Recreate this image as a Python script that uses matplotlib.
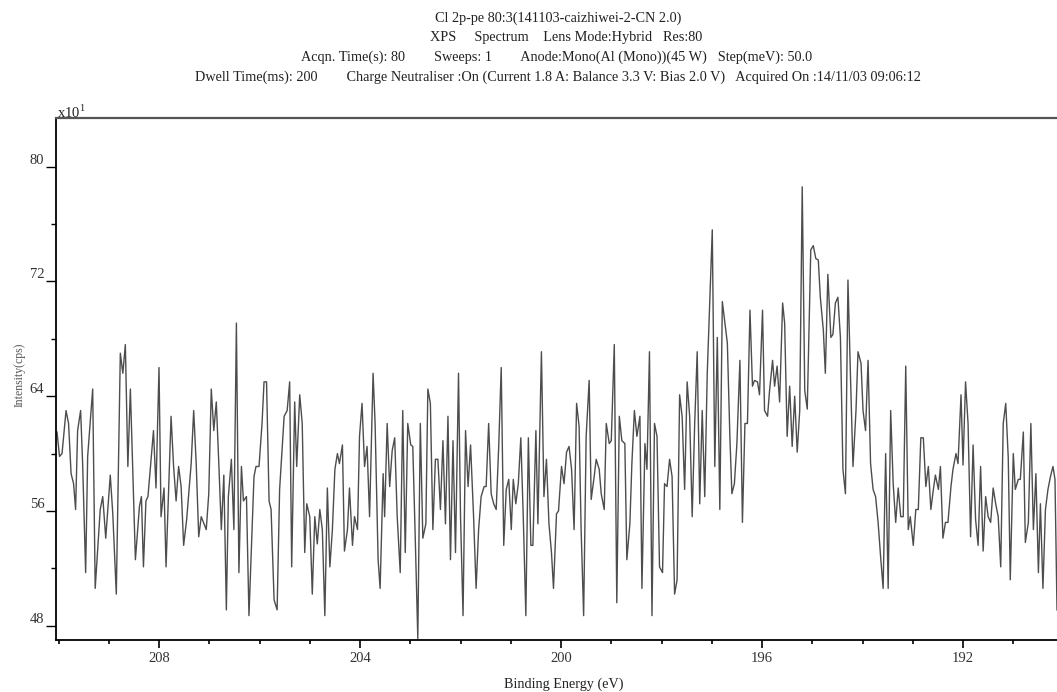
import matplotlib
matplotlib.use("Agg")
import matplotlib.pyplot as plt
from matplotlib.ticker import MultipleLocator
import numpy as np

plt.rcParams['font.family'] = ['Liberation Serif', 'DejaVu Serif']
plt.rcParams['mathtext.fontset'] = 'custom'
plt.rcParams['mathtext.rm'] = 'Liberation Serif'

# Cl 2p spectrum, binding energy (eV) vs intensity (x10 cps)
energy_a = [210.03, 209.98, 209.93, 209.85, 209.80, 209.75, 209.70, 209.66, 209.62, 209.56,
            209.52, 209.46, 209.42, 209.32, 209.27, 209.17, 209.12, 209.06, 208.97, 208.92,
            208.85, 208.77, 208.72, 208.67, 208.62, 208.57, 208.47, 208.39, 208.35, 208.31,
            208.26, 208.22, 208.11, 208.06, 208.00, 207.96, 207.90, 207.86, 207.76, 207.71,
            207.66, 207.61, 207.56, 207.51, 207.45, 207.36, 207.31, 207.26, 207.21, 207.16,
            207.06, 207.01, 206.96, 206.91, 206.86, 206.81, 206.76, 206.71, 206.66, 206.62,
            206.56, 206.51, 206.46, 206.41, 206.36, 206.32, 206.26, 206.21, 206.11, 206.07,
            206.01, 205.95, 205.91, 205.86, 205.81, 205.77, 205.71, 205.65, 205.60, 205.51,
            205.45, 205.40, 205.36, 205.30, 205.26, 205.20, 205.15, 205.10, 205.06, 205.00,
            204.95, 204.90, 204.85, 204.80, 204.75, 204.70, 204.65, 204.60, 204.55, 204.50,
            204.45, 204.41, 204.35, 204.31, 204.25, 204.21, 204.15, 204.11, 204.05, 204.01,
            203.96, 203.91, 203.86, 203.81, 203.74, 203.70, 203.64, 203.60, 203.54]
counts_a = [61.5, 59.8, 60.0, 63.0, 62.1, 58.6, 57.9, 56.1, 61.6, 63.0,
            59.3, 51.7, 59.8, 64.5, 50.6, 56.1, 57.0, 54.1, 58.5, 55.8,
            50.2, 67.0, 65.6, 67.6, 59.1, 64.5, 52.6, 56.3, 57.0, 52.1,
            56.7, 57.0, 61.6, 57.6, 66.0, 55.6, 57.6, 52.1, 62.6, 59.1,
            56.7, 59.1, 57.7, 53.6, 55.4, 59.3, 63.0, 59.3, 54.2, 55.6,
            54.7, 57.2, 64.5, 61.6, 63.6, 59.3, 54.7, 58.5, 49.1, 57.0,
            59.6, 54.7, 69.1, 51.7, 59.1, 56.7, 57.0, 48.7, 58.4, 59.1,
            59.1, 62.1, 65.0, 65.0, 56.7, 56.1, 49.8, 49.1, 57.5, 62.6,
            63.0, 65.0, 52.1, 63.6, 59.1, 64.1, 62.1, 53.1, 56.5, 55.6,
            50.2, 55.6, 53.7, 56.1, 54.7, 48.7, 57.6, 52.1, 54.7, 58.9,
            60.0, 59.3, 60.6, 53.2, 54.7, 57.6, 53.6, 55.6, 54.7, 61.2,
            63.5, 59.1, 60.5, 55.6, 65.6, 62.1, 52.6, 50.6, 58.6]

energy_b = [203.51, 203.46, 203.41, 203.36, 203.31, 203.26, 203.20, 203.15, 203.10, 203.05,
            202.99, 202.95, 202.90, 202.85, 202.80, 202.75, 202.69, 202.65, 202.60, 202.55,
            202.50, 202.45, 202.40, 202.35, 202.30, 202.25, 202.20, 202.15, 202.10, 202.04,
            202.00, 201.95, 201.90, 201.85, 201.80, 201.74, 201.69, 201.64, 201.59, 201.53,
            201.49, 201.44, 201.39, 201.34, 201.29, 201.24, 201.19, 201.14, 201.09, 201.04,
            200.99, 200.95, 200.90, 200.85, 200.80, 200.75, 200.70, 200.65, 200.60, 200.56,
            200.50, 200.46, 200.39, 200.34, 200.29, 200.24, 200.19, 200.15, 200.09, 200.05,
            199.99, 199.94, 199.89, 199.84, 199.79, 199.74, 199.69, 199.64, 199.60, 199.55,
            199.50, 199.44, 199.40, 199.34, 199.30, 199.24, 199.20, 199.14, 199.10, 199.04,
            199.00, 198.94, 198.89, 198.84, 198.79, 198.73, 198.69, 198.63, 198.59, 198.54,
            198.49, 198.43, 198.39, 198.33, 198.29, 198.24, 198.19, 198.14, 198.09, 198.04,
            197.98, 197.94, 197.89, 197.84, 197.79, 197.74, 197.69, 197.64, 197.59, 197.54,
            197.49, 197.44, 197.39, 197.34, 197.29, 197.24, 197.19, 197.14, 197.09]
counts_b = [55.6, 62.1, 57.7, 60.2, 61.1, 55.6, 51.7, 63.0, 53.1, 62.1,
            60.6, 60.5, 54.0, 47.1, 62.1, 54.1, 55.1, 64.5, 63.5, 54.7,
            59.6, 59.6, 56.1, 60.9, 55.1, 62.6, 52.6, 60.9, 53.1, 65.6,
            55.6, 48.7, 61.6, 57.7, 60.6, 55.6, 50.6, 54.7, 57.0, 57.7,
            57.7, 62.1, 57.2, 56.5, 56.1, 60.5, 66.0, 53.6, 57.5, 58.2,
            54.7, 58.2, 56.5, 57.9, 61.1, 55.4, 48.7, 61.1, 53.6, 53.6,
            61.6, 55.1, 67.1, 57.0, 59.6, 55.1, 53.1, 50.6, 55.8, 56.0,
            59.1, 57.9, 60.1, 60.5, 58.9, 54.7, 63.5, 61.9, 54.7, 48.7,
            61.2, 65.1, 56.8, 58.4, 59.6, 58.9, 57.2, 56.1, 62.1, 60.7,
            60.9, 67.6, 49.6, 62.6, 60.9, 60.7, 52.6, 55.1, 59.3, 63.0,
            61.2, 62.6, 50.6, 60.7, 58.9, 67.1, 48.7, 62.1, 61.2, 52.1,
            51.7, 57.9, 57.7, 59.6, 58.4, 50.2, 51.2, 64.1, 62.6, 57.5,
            65.0, 62.6, 55.6, 62.1, 67.1, 56.5, 63.0, 57.0, 65.6]

energy_c = [196.99, 196.94, 196.89, 196.84, 196.79, 196.69, 196.64, 196.60, 196.55, 196.50,
            196.44, 196.39, 196.34, 196.29, 196.24, 196.19, 196.15, 196.09, 196.05, 195.99,
            195.95, 195.89, 195.85, 195.79, 195.75, 195.70, 195.65, 195.59, 195.55, 195.50,
            195.45, 195.40, 195.35, 195.30, 195.25, 195.20, 195.15, 195.10, 195.03, 194.98,
            194.93, 194.88, 194.84, 194.78, 194.74, 194.69, 194.63, 194.59, 194.54, 194.49,
            194.44, 194.39, 194.34, 194.29, 194.24, 194.19, 194.13, 194.09, 194.03, 193.99,
            193.94, 193.89, 193.84, 193.79, 193.74, 193.69, 193.64, 193.59, 193.54, 193.49,
            193.44, 193.39, 193.34, 193.29, 193.24, 193.19, 193.14, 193.09, 193.05, 192.99,
            192.94, 192.89, 192.84, 192.79, 192.74, 192.69, 192.64, 192.59, 192.55, 192.49,
            192.45, 192.40, 192.35, 192.30, 192.24, 192.20, 192.14, 192.10, 192.04, 192.00,
            191.95, 191.90, 191.85, 191.80, 191.75, 191.70, 191.65, 191.60, 191.55, 191.50,
            191.45, 191.40, 191.35, 191.30, 191.25, 191.20, 191.15, 191.10, 191.06, 191.00,
            190.96, 190.90, 190.86, 190.80, 190.76, 190.70, 190.65, 190.60, 190.55, 190.50,
            190.46, 190.41, 190.36, 190.31, 190.26, 190.21, 190.17, 190.13]
counts_c = [75.6, 59.1, 68.1, 56.1, 70.6, 67.7, 61.2, 57.2, 57.9, 60.7,
            66.5, 55.2, 62.1, 62.1, 70.0, 64.7, 65.1, 65.0, 64.1, 70.0,
            63.0, 62.6, 64.4, 66.5, 64.7, 66.1, 63.6, 70.5, 69.1, 61.2,
            64.7, 60.5, 64.0, 60.1, 63.0, 78.6, 64.4, 63.1, 74.2, 74.5,
            73.6, 73.5, 70.9, 68.6, 65.6, 72.5, 68.1, 68.3, 70.5, 70.9,
            68.1, 58.9, 57.2, 72.1, 65.4, 59.1, 63.0, 67.1, 66.3, 63.0,
            61.6, 66.5, 59.3, 57.5, 57.0, 55.2, 52.8, 50.6, 60.0, 50.6,
            63.0, 57.9, 55.2, 57.6, 55.6, 55.6, 66.1, 54.7, 55.6, 53.6,
            56.1, 56.1, 61.1, 61.1, 57.7, 59.1, 56.1, 57.5, 58.5, 57.5,
            59.1, 54.1, 55.2, 55.2, 57.7, 58.9, 60.0, 59.3, 64.1, 59.2,
            65.0, 62.1, 54.2, 60.6, 55.4, 53.6, 59.1, 53.2, 57.0, 55.6,
            55.2, 57.6, 56.5, 55.6, 52.1, 62.1, 63.5, 59.7, 51.2, 60.0,
            57.5, 58.2, 58.2, 61.5, 53.8, 55.2, 62.1, 54.7, 58.6, 51.7,
            56.5, 50.6, 56.1, 57.5, 58.4, 59.1, 58.2, 49.1]

energy = energy_a + energy_b + energy_c
counts = counts_a + counts_b + counts_c

title_lines = [
    "Cl 2p-pe 80:3(141103-caizhiwei-2-CN 2.0)",
    "XPS     Spectrum    Lens Mode:Hybrid   Res:80",
    "Acqn. Time(s): 80        Sweeps: 1        Anode:Mono(Al (Mono))(45 W)   Step(meV): 50.0",
    "Dwell Time(ms): 200        Charge Neutraliser :On (Current 1.8 A: Balance 3.3 V: Bias 2.0 V)   Acquired On :14/11/03 09:06:12",
]
title_x = [435, 430, 301, 195]
title_y = [18, 38, 57, 77]

fig = plt.figure(figsize=(10.57, 6.92), dpi=100)
ax = fig.add_axes([56/1057, 1 - 640/692, 1 - 56/1057, (640 - 118)/692])

ax.plot(energy, counts, color='#4d4d4d', lw=1.0)
ax.set_xlim(210.05, 190.13)
ax.set_ylim(47.0, 83.4)

ax.xaxis.set_major_locator(MultipleLocator(4))
ax.xaxis.set_minor_locator(MultipleLocator(1))
ax.yaxis.set_major_locator(MultipleLocator(8))
ax.yaxis.set_minor_locator(MultipleLocator(4))
ax.tick_params(axis='x', which='major', direction='out', length=6, width=1.2, pad=3,
               labelsize=10.5, labelcolor='#333333')
ax.tick_params(axis='x', which='minor', direction='out', length=3, width=1.2)
ax.tick_params(axis='y', which='major', direction='out', length=7.5, width=1.0, pad=1,
               labelsize=10.5, labelcolor='#333333')
ax.tick_params(axis='y', which='minor', direction='out', length=3.5, width=1.0)
for lab in ax.get_yticklabels():
    lab.set_verticalalignment('bottom')

for side in ['left', 'bottom']:
    ax.spines[side].set_linewidth(1.3)
    ax.spines[side].set_color('black')
ax.spines['top'].set_linewidth(1.6)
ax.spines['top'].set_color('#555555')
ax.spines['right'].set_visible(False)

for txt, x, y in zip(title_lines, title_x, title_y):
    fig.text(x/1057, 1 - y/692, txt, ha='left', va='center', fontsize=10.3, color='#222222')

fig.text(57/1057, 1 - 112/692, 'x10$^{1}$', ha='left', va='center', fontsize=10.5, color='#222222')
fig.text(20/1057, 1 - 375/692, 'Intensity(cps)', rotation=90, ha='center', va='center',
         fontsize=8.5, color='#555555')
fig.text(564/1057, 1 - 684/692, 'Binding Energy (eV)', ha='center', va='center',
         fontsize=10.2, color='#222222')

fig.savefig('out.png', dpi=100)
